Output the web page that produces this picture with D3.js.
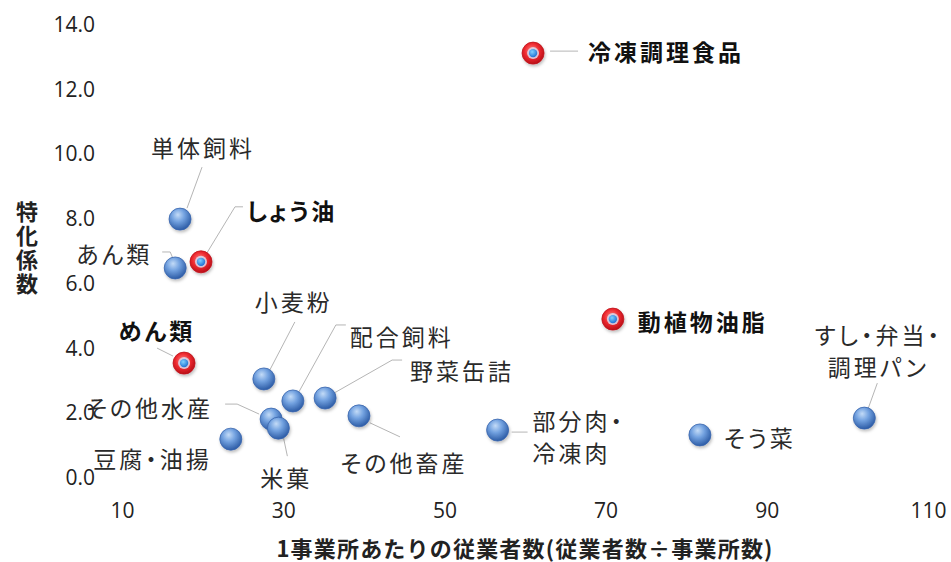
<!DOCTYPE html>
<html><head><meta charset="utf-8">
<script src="https://cdn.jsdelivr.net/npm/d3@7"></script>
<style>
html,body{margin:0;padding:0;background:#fff;}
svg{display:block;}
.lbl{font-family:'Noto Sans CJK JP',sans-serif;font-size:23px;font-feature-settings:"palt";}
</style></head>
<body>
<svg id="chart" width="951" height="562"></svg>
<script>
// ---- data ----
const names = ["単体飼料","あん類","しょう油","めん類","小麦粉","配合飼料","野菜缶詰","その他畜産","その他水産","米菓","豆腐・油揚","部分肉・\n冷凍肉","そう菜","すし・弁当・\n調理パン","動植物油脂","冷凍調理食品"];
const employeesPerSite = [17.2,16.6,19.8,17.7,27.6,31.2,35.2,39.4,28.5,29.4,23.5,56.6,81.7,102.1,70.9,61.0];
const specializationCoef = [7.97,6.46,6.65,3.52,3.03,2.35,2.44,1.89,1.79,1.51,1.17,1.45,1.30,1.82,4.88,13.10];
const highlighted = [false,false,true,true,false,false,false,false,false,false,false,false,false,false,true,true];
const xTicks = [10,30,50,70,90,110];
const yTicks = [0,2,4,6,8,10,12,14];
const xTitle = "1事業所あたりの従業者数(従業者数÷事業所数)";
const yTitle = "特化係数";

// ---- label layout (pixel offsets relative to each point) ----
const labelLayout = [
  {dx:23, dy:-72, anchor:"middle", leader:[[22,-52],[7,-11]]},
  {dx:-23, dy:-15, anchor:"end", leader:[[-13,-16],[-5,-16],[-2,-9]]},
  {dx:46, dy:-52, anchor:"start", leader:[[42,-55],[34,-55],[6,-9]]},
  {dx:-27, dy:-33, anchor:"middle", leader:[[-27,-15],[-11,-7]]},
  {dx:30, dy:-78, anchor:"middle", leader:[[31,-57],[6,-9]]},
  {dx:57, dy:-65, anchor:"start", leader:[[53,-76],[43,-76],[6,-9]]},
  {dx:85, dy:-28, anchor:"start", leader:[[77,-38],[67,-38],[9,-5]]},
  {dx:45, dy:46, anchor:"middle", leader:[[11,7],[41,21]]},
  {dx:-58, dy:-12, anchor:"end", leader:[[-46,-15],[-34,-15],[-12,-5]]},
  {dx:8, dy:49, anchor:"middle", leader:[[5,9],[9,28]]},
  {dx:-19, dy:19, anchor:"end", leader:null},
  {dx:35, dy:-10, anchor:"start", leader:[[14,2],[30,2]]},
  {dx:24, dy:2, anchor:"start", leader:null},
  {dx:14, dy:-84, anchor:"middle", leader:[[13,-35],[4,-10]]},
  {dx:25, dy:2, anchor:"start", leader:null},
  {dx:55, dy:-2, anchor:"start", leader:[[17,-2],[45,-2]]}
];

const svg = d3.select("#chart");
const x = d3.scaleLinear().domain([10,110]).range([122,928]);
const y = d3.scaleLinear().domain([0,14]).range([477,24]);

// gradients
const defs = svg.append("defs");
const gb = defs.append("radialGradient").attr("id","gBlue").attr("cx","42%").attr("cy","35%").attr("r","65%").attr("fx","40%").attr("fy","30%");
gb.append("stop").attr("offset","0%").attr("stop-color","#c3dbf7");
gb.append("stop").attr("offset","45%").attr("stop-color","#73a2e0");
gb.append("stop").attr("offset","100%").attr("stop-color","#2d5ca6");
const gr = defs.append("radialGradient").attr("id","gRed").attr("cx","45%").attr("cy","40%").attr("r","60%");
gr.append("stop").attr("offset","0%").attr("stop-color","#ff8a8a");
gr.append("stop").attr("offset","55%").attr("stop-color","#ee2a30");
gr.append("stop").attr("offset","100%").attr("stop-color","#b80e18");
const gd = defs.append("radialGradient").attr("id","gDot").attr("cx","40%").attr("cy","35%").attr("r","65%");
gd.append("stop").attr("offset","0%").attr("stop-color","#7fd0ff");
gd.append("stop").attr("offset","100%").attr("stop-color","#1f72d4");
const sh = defs.append("filter").attr("id","shadow").attr("x","-50%").attr("y","-50%").attr("width","200%").attr("height","200%");
sh.append("feDropShadow").attr("dx",1).attr("dy",2).attr("stdDeviation",1.5).attr("flood-color","#000").attr("flood-opacity",0.25);

function styleTicks(g){
  g.select(".domain").remove();
  g.selectAll(".tick text")
    .style("font-family","'Open Sans', Lato, sans-serif")
    .style("font-size","21px")
    .style("fill","#222")
    .attr("dy","0.36em");
}

// axes (labels only, no lines)
const yAxis = d3.axisLeft(y).tickValues(yTicks).tickFormat(d3.format(".1f")).tickSize(0).tickPadding(0);
svg.append("g").attr("transform","translate(95,0)").call(yAxis).call(styleTicks);

const xAxis = d3.axisBottom(x).tickValues(xTicks).tickFormat(d3.format("d")).tickSize(0).tickPadding(0);
svg.append("g").attr("transform","translate(0,510)").call(xAxis).call(styleTicks);

// axis titles
svg.append("text").attr("x",525).attr("y",547).attr("text-anchor","middle").attr("dominant-baseline","central")
  .attr("font-family","'Noto Sans CJK JP', sans-serif").attr("font-weight","bold").attr("font-size",22)
  .attr("letter-spacing","1.2px").attr("fill","#222").text(xTitle);
svg.append("text").attr("x",27).attr("y",201)
  .style("writing-mode","vertical-rl").style("glyph-orientation-vertical","0")
  .attr("font-family","'Noto Sans CJK JP', sans-serif").attr("font-weight","bold")
  .attr("font-size",22).attr("letter-spacing","2px").attr("fill","#222").text(yTitle);

const data = names.map((n,i)=>({name:n, x:employeesPerSite[i], y:specializationCoef[i], hi:highlighted[i], lay:labelLayout[i]}));

// leader lines
const line = d3.line();
svg.append("g").selectAll("path").data(data.filter(d=>d.lay.leader)).join("path")
  .attr("d",d=>line(d.lay.leader.map(p=>[x(d.x)+p[0], y(d.y)+p[1]])))
  .attr("fill","none").attr("stroke","#b5b5b5").attr("stroke-width",1);

// points
const pts = svg.append("g").selectAll("g").data(data).join("g")
  .attr("transform",d=>`translate(${x(d.x)},${y(d.y)})`);
pts.filter(d=>!d.hi).append("circle").attr("r",11).attr("fill","url(#gBlue)")
  .attr("stroke","#3a66ad").attr("stroke-width",0.8).attr("filter","url(#shadow)");
const red = pts.filter(d=>d.hi);
red.append("circle").attr("r",11).attr("fill","url(#gRed)").attr("stroke","#c0141c").attr("stroke-width",0.8).attr("filter","url(#shadow)");
red.append("circle").attr("r",6).attr("fill","#d9dcef").attr("opacity",0.85);
red.append("circle").attr("r",4.2).attr("fill","url(#gDot)");

// labels
const lbl = svg.append("g").selectAll("text").data(data).join("text")
  .attr("class","lbl")
  .attr("letter-spacing","3px")
  .attr("font-weight",d=>d.hi?"bold":"normal")
  .attr("fill",d=>d.hi?"#111":"#2a2a2a")
  .attr("text-anchor",d=>d.lay.anchor);
lbl.each(function(d){
  const t = d3.select(this);
  const lines = d.name.split("\n");
  lines.forEach((s,k)=>{
    t.append("tspan").attr("x",x(d.x)+d.lay.dx).attr("y",y(d.y)+d.lay.dy+k*32)
      .attr("dominant-baseline","central").text(s);
  });
});
</script>
</body></html>
